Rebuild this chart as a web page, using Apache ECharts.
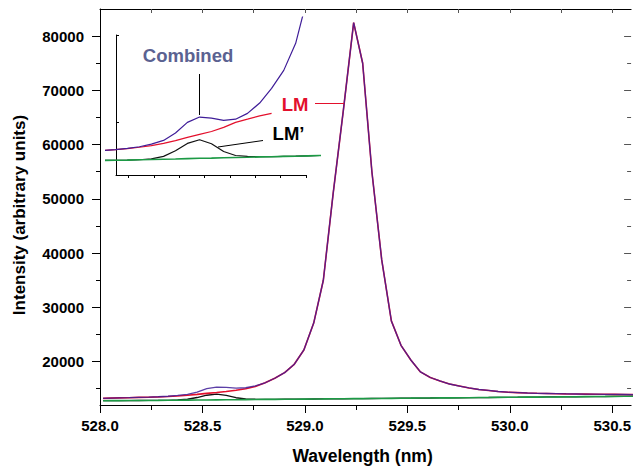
<!DOCTYPE html>
<html><head><meta charset="utf-8">
<script src="https://cdn.jsdelivr.net/npm/echarts@6/dist/echarts.min.js"></script>
<style>html,body{margin:0;padding:0;background:#fff}#c{width:634px;height:471px}</style>
</head><body><div id="c"></div>
<script>
// ---- data ----
const wavelength = [
  528.015, 528.047, 528.095, 528.142, 528.190, 528.237, 528.284, 528.332, 528.379, 528.427,
  528.474, 528.521, 528.569, 528.616, 528.664, 528.711, 528.758, 528.806, 528.853, 528.901,
  528.948, 528.995, 529.043, 529.090, 529.138, 529.188, 529.238, 529.282, 529.327, 529.375,
  529.422, 529.469, 529.517, 529.564, 529.612, 529.659, 529.706, 529.754, 529.801, 529.849,
  529.896, 529.943, 529.991, 530.038, 530.086, 530.133, 530.180, 530.228, 530.275, 530.323,
  530.370, 530.417, 530.465, 530.512, 530.560, 530.607
];
const combined = [
  13230, 13270, 13310, 13350, 13400, 13450, 13520, 13610, 13760, 13970,
  14390, 15000, 15300, 15240, 15110, 15180, 15510, 16100, 16930, 17960,
  19500, 22150, 27100, 35000, 51000, 66400, 82500, 75000, 55000, 38750,
  27500, 23000, 20300, 18100, 17070, 16430, 15870, 15500, 15140, 14860,
  14680, 14490, 14360, 14290, 14210, 14160, 14120, 14080, 14050, 14030,
  14010, 13990, 13970, 13960, 13940, 13920
];
const lm = [
  13230, 13270, 13310, 13350, 13400, 13440, 13500, 13570, 13660, 13790,
  13960, 14140, 14310, 14480, 14710, 15000, 15400, 16100, 16930, 17960,
  19500, 22150, 27100, 35000, 51000, 66400, 82500, 75000, 55000, 38750,
  27500, 23000, 20300, 18100, 17070, 16430, 15870, 15500, 15140, 14860,
  14680, 14490, 14360, 14290, 14210, 14160, 14120, 14080, 14050, 14030,
  14010, 13990, 13970, 13960, 13940, 13920
];
const baseline = [
  12790, 12800, 12810, 12820, 12830, 12840, 12850, 12870, 12880, 12900,
  12910, 12930, 12950, 12960, 12980, 13000, 13010, 13030, 13040, 13060,
  13070, 13090, 13110, 13120, 13140, 13150, 13170, 13180, 13200, 13210,
  13230, 13250, 13260, 13280, 13290, 13310, 13320, 13340, 13350, 13370,
  13380, 13400, 13420, 13430, 13450, 13460, 13480, 13490, 13510, 13520,
  13540, 13560, 13570, 13590, 13600, 13620
];
const lmPrime = [
  12790, 12800, 12810, 12820, 12830, 12840, 12850, 12870, 12920, 13060,
  13380, 13800, 14010, 13780, 13340, 13110, 13060, 13040, 13040, 13060,
  13070, 13090, 13110, 13120, 13140, 13150, 13170, 13180, 13200, 13210,
  13230, 13250, 13260, 13280, 13290, 13310, 13320, 13340, 13350, 13370,
  13380, 13400, 13420, 13430, 13450, 13460, 13480, 13490, 13510, 13520,
  13540, 13560, 13570, 13590, 13600, 13620
];
// LM as drawn inside the inset
const lmInsetWavelength = [528.190, 528.237, 528.284, 528.332, 528.379, 528.427, 528.474, 528.521, 528.569, 528.616, 528.664, 528.711, 528.758, 528.806, 528.853];
const lmInset = [13400, 13440, 13500, 13580, 13670, 13800, 13960, 14140, 14310, 14480, 14710, 15000, 15180, 15370, 15510];

const xMajorTicks = [528.0, 528.5, 529.0, 529.5, 530.0, 530.5];
const xMinorTicks = [528.25, 528.75, 529.25, 529.75, 530.25];
const xTopTicks = [528.25, 528.5, 528.75, 529.0, 529.25, 529.5, 529.75, 530.0, 530.25, 530.5];
const yMajorTicks = [20000, 30000, 40000, 50000, 60000, 70000, 80000];
const yMinorTicks = [15000, 25000, 35000, 45000, 55000, 65000, 75000];
const insetXTicks = [528.29, 528.39, 528.49, 528.59, 528.69, 528.79, 528.89, 528.99];
const insetYTicks = [15000, 20000];

const FONT = '"Liberation Sans", Arial, Helvetica, sans-serif';
const pairs = (xs, ys) => xs.map((x, i) => [x, ys[i]]);

const C_COMB = '#3f1d98', C_LM = '#e3102c', C_LMP = '#111111', C_BASE = '#1c9a45';

const chart = echarts.init(document.getElementById('c'), null, {renderer: 'svg'});
const noSplit = {show: false};
const blankLabel = {show: false};

chart.setOption({
  animation: false,
  backgroundColor: '#ffffff',
  grid: [
    {left: 100, right: 0, top: 9, bottom: 66},
    {left: 106, top: 17, width: 213, height: 158},
    {left: 116, top: 35, width: 190, height: 140}
  ],
  xAxis: [
    {
      type: 'value', gridIndex: 0, position: 'bottom', min: 528.0, max: 530.592,
      name: 'Wavelength (nm)', nameLocation: 'middle', nameGap: 42,
      nameTextStyle: {fontFamily: FONT, fontWeight: 'bold', fontSize: 17.5, color: '#000', padding: [0, 6, 0, 0]},
      axisLine: {show: true, onZero: false, lineStyle: {color: '#000', width: 1}},
      axisTick: {show: true, inside: false, length: 8, customValues: xMajorTicks, lineStyle: {color: '#000'}},
      axisLabel: {show: true, customValues: xMajorTicks, formatter: v => Number(v).toFixed(1),
        fontFamily: FONT, fontWeight: 'bold', fontSize: 15, color: '#000', margin: 13},
      splitLine: noSplit
    },
    {
      type: 'value', gridIndex: 0, position: 'bottom', min: 528.0, max: 530.592,
      axisLine: {show: false, onZero: false},
      axisTick: {show: true, inside: false, length: 5, customValues: xMinorTicks, lineStyle: {color: '#000'}},
      axisLabel: blankLabel, splitLine: noSplit
    },
    {
      type: 'value', gridIndex: 0, position: 'top', min: 528.0, max: 530.592,
      axisLine: {show: true, onZero: false, lineStyle: {color: '#000', width: 1}},
      axisTick: {show: true, inside: true, length: 4, customValues: xTopTicks, lineStyle: {color: '#555'}},
      axisLabel: blankLabel, splitLine: noSplit
    },
    {type: 'value', gridIndex: 1, min: 528.2, max: 529.04, show: false, splitLine: noSplit},
    {
      type: 'value', gridIndex: 2, position: 'bottom', min: 528.24, max: 528.99,
      axisLine: {show: true, onZero: false, lineStyle: {color: '#000', width: 1}},
      axisTick: {show: true, inside: false, length: 3, customValues: insetXTicks, lineStyle: {color: '#000'}},
      axisLabel: blankLabel, splitLine: noSplit
    }
  ],
  yAxis: [
    {
      type: 'value', gridIndex: 0, position: 'left', min: 12000, max: 85000,
      name: 'Intensity (arbitrary units)', nameLocation: 'middle', nameGap: 72,
      nameTextStyle: {fontFamily: FONT, fontWeight: 'bold', fontSize: 17, color: '#000', padding: [0, 16, 0, 0]},
      axisLine: {show: true, onZero: false, lineStyle: {color: '#000', width: 1}},
      axisTick: {show: true, inside: false, length: 8, customValues: yMajorTicks, lineStyle: {color: '#000'}},
      axisLabel: {show: true, customValues: yMajorTicks, formatter: v => String(v),
        fontFamily: FONT, fontWeight: 'bold', fontSize: 15, color: '#000', margin: 16},
      splitLine: noSplit
    },
    {
      type: 'value', gridIndex: 0, position: 'left', min: 12000, max: 85000,
      axisLine: {show: false, onZero: false},
      axisTick: {show: true, inside: false, length: 4, customValues: yMinorTicks, lineStyle: {color: '#000'}},
      axisLabel: blankLabel, splitLine: noSplit
    },
    {
      type: 'value', gridIndex: 0, position: 'right', min: 12000, max: 85000,
      axisLine: {show: false, onZero: false},
      axisTick: {show: true, inside: true, length: 7, customValues: yMajorTicks, lineStyle: {color: '#555'}},
      axisLabel: blankLabel, splitLine: noSplit
    },
    {
      type: 'value', gridIndex: 0, position: 'right', min: 12000, max: 85000,
      axisLine: {show: false, onZero: false},
      axisTick: {show: true, inside: true, length: 4, customValues: yMinorTicks, lineStyle: {color: '#555'}},
      axisLabel: blankLabel, splitLine: noSplit
    },
    {type: 'value', gridIndex: 1, min: 12000, max: 21000, show: false, splitLine: noSplit},
    {
      type: 'value', gridIndex: 2, position: 'left', min: 12000, max: 20000,
      axisLine: {show: true, onZero: false, lineStyle: {color: '#000', width: 1}},
      axisTick: {show: true, inside: true, length: 3, customValues: insetYTicks, lineStyle: {color: '#000'}},
      axisLabel: blankLabel, splitLine: noSplit
    }
  ],
  series: [
    {type: 'line', xAxisIndex: 0, yAxisIndex: 0, data: pairs(wavelength, lmPrime), showSymbol: false, z: 2,
      lineStyle: {color: C_LMP, width: 1.3}},
    {type: 'line', xAxisIndex: 0, yAxisIndex: 0, data: pairs(wavelength, baseline), showSymbol: false, z: 3,
      lineStyle: {color: C_BASE, width: 1.6}},
    {type: 'line', xAxisIndex: 0, yAxisIndex: 0, data: pairs(wavelength, lm), showSymbol: false, z: 4,
      lineStyle: {color: C_LM, width: 1.6}},
    {type: 'line', xAxisIndex: 0, yAxisIndex: 0, data: pairs(wavelength, combined), showSymbol: false, z: 5,
      lineStyle: {color: C_COMB, width: 1.3, opacity: 0.85}},
    {type: 'line', xAxisIndex: 3, yAxisIndex: 4, data: pairs(wavelength, lmPrime), showSymbol: false, z: 6,
      lineStyle: {color: C_LMP, width: 1.2}},
    {type: 'line', xAxisIndex: 3, yAxisIndex: 4, data: pairs(wavelength, baseline), showSymbol: false, z: 7,
      lineStyle: {color: C_BASE, width: 1.6}},
    {type: 'line', xAxisIndex: 3, yAxisIndex: 4, data: pairs(lmInsetWavelength, lmInset), showSymbol: false, z: 8,
      lineStyle: {color: C_LM, width: 1.2}},
    {type: 'line', xAxisIndex: 3, yAxisIndex: 4, data: pairs(wavelength, combined), showSymbol: false, z: 9,
      lineStyle: {color: C_COMB, width: 1.2}}
  ],
  graphic: [
    {type: 'text', x: 188, y: 55, z: 20,
      style: {text: 'Combined', fill: '#5b6291', font: 'bold 18.5px ' + FONT, textAlign: 'center', textVerticalAlign: 'middle'}},
    {type: 'text', x: 295, y: 104.5, z: 20,
      style: {text: 'LM', fill: '#e3102c', font: 'bold 18.5px ' + FONT, textAlign: 'center', textVerticalAlign: 'middle'}},
    {type: 'text', x: 288.5, y: 133, z: 20,
      style: {text: 'LM\u2019', fill: '#000', font: 'bold 18.5px ' + FONT, textAlign: 'center', textVerticalAlign: 'middle'}},
    {type: 'line', z: 20, shape: {x1: 199.5, y1: 74, x2: 199.5, y2: 115}, style: {stroke: '#000', lineWidth: 1}},
    {type: 'line', z: 20, shape: {x1: 315, y1: 103.5, x2: 344, y2: 103.5}, style: {stroke: '#e3102c', lineWidth: 1}},
    {type: 'line', z: 20, shape: {x1: 218, y1: 147, x2: 263, y2: 140.5}, style: {stroke: '#000', lineWidth: 1}}
  ]
});
</script>
</body></html>
